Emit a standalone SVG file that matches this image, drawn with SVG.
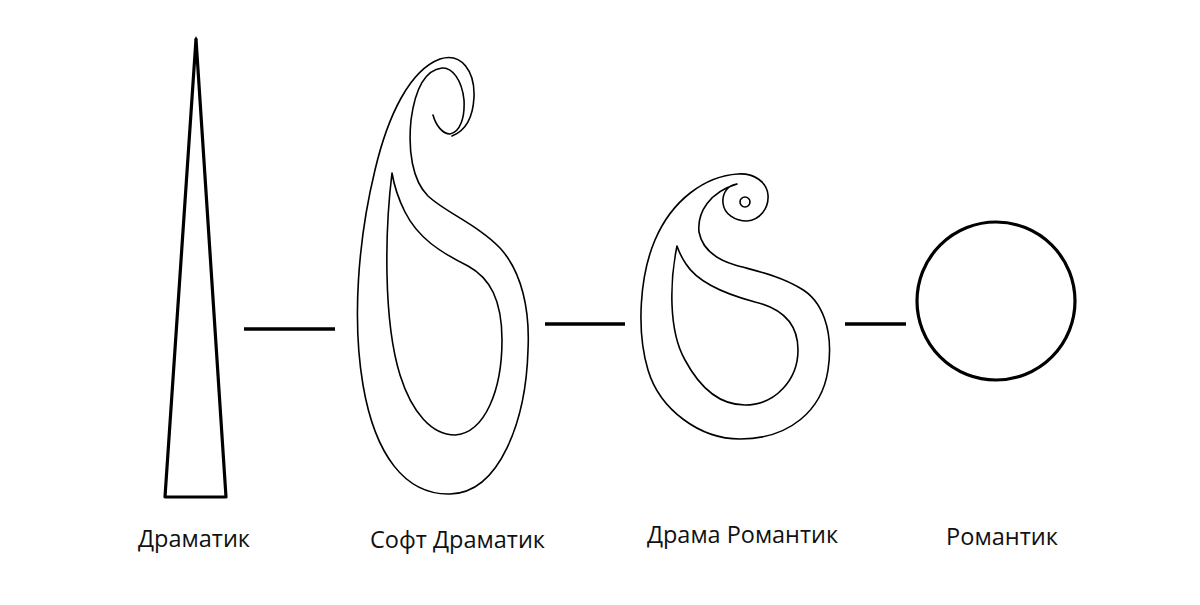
<svg xmlns="http://www.w3.org/2000/svg" width="1200" height="605" viewBox="0 0 1200 605">
<style>
.thick{fill:none;stroke:#000;stroke-width:3.2}
.tri{fill:none;stroke:#000;stroke-width:3.2;stroke-linejoin:round}
.thin{fill:none;stroke:#000;stroke-width:1.6;stroke-linejoin:round;stroke-linecap:round}
.conn{stroke:#000;stroke-width:3.5}
.lbl{font-family:"Open Sans","Liberation Sans",sans-serif;font-size:23px;fill:#111}
</style>
<rect width="1200" height="605" fill="#fff"/>
<g id="dramatik">
<polygon class="tri" points="196,39 165,497 226,497"/>
<path d="M194.6,40 L196,36 L197.4,40 Z" fill="#000"/>
<text class="lbl" x="138" y="547" textLength="112" lengthAdjust="spacingAndGlyphs">Драматик</text>
</g>
<g id="soft-dramatik">
<path class="thin" d="M433,115 C436,126 443,134 450,134 C460,132 465,118 464,100 C462,80 452,67 442,68 C425,70 415,90 411,120 C408,150 412,180 428,196 C445,212 478,225 500,248 C522,272 530,310 528,350 C526,420 500,493 450,494 C405,495 375,455 363,385 C352,320 358,240 375,170 C388,115 410,70 440,59 C462,52 475,72 474,97 C473,118 465,131 452,136"/>
<path class="thin" d="M392,173 C385,230 383,320 400,375 C412,413 432,435 455,435 C485,433 502,390 502,340 C502,300 490,278 468,266 C440,252 418,238 405,212 C398,198 394,185 392,173 Z"/>
<text class="lbl" x="370" y="548" textLength="175" lengthAdjust="spacingAndGlyphs">Софт Драматик</text>
</g>
<g id="drama-romantik">
<path class="thin" d="M737,184 C728,185 722,193 723,203 C724,214 735,221 747,221 C760,220 769,208 768,195 C767,182 754,173 738,174 C705,176 672,200 655,240 C640,275 636,330 648,370 C660,410 700,439 740,439 C790,439 822,410 828,370 C834,330 822,300 800,288 C780,276 760,272 735,265 C715,259 702,248 699,232 C697,212 710,192 737,184 Z"/>
<path class="thin" d="M677,246 C670,280 668,330 685,360 C700,388 720,405 745,405 C775,405 798,380 798,350 C798,322 780,308 755,302 C725,294 698,283 686,264 C682,258 679,252 677,246 Z"/>
<circle class="thin" cx="745" cy="202" r="5"/>
<text class="lbl" x="647" y="543" textLength="191" lengthAdjust="spacingAndGlyphs">Драма Романтик</text>
</g>
<g id="romantik">
<circle class="thick" cx="996" cy="301" r="79"/>
<text class="lbl" x="946" y="545" textLength="112" lengthAdjust="spacingAndGlyphs">Романтик</text>
</g>
<g id="connectors">
<line class="conn" x1="244" y1="329" x2="335" y2="329"/>
<line class="conn" x1="545" y1="324" x2="625" y2="324"/>
<line class="conn" x1="845" y1="324" x2="906" y2="324"/>
</g>
</svg>
